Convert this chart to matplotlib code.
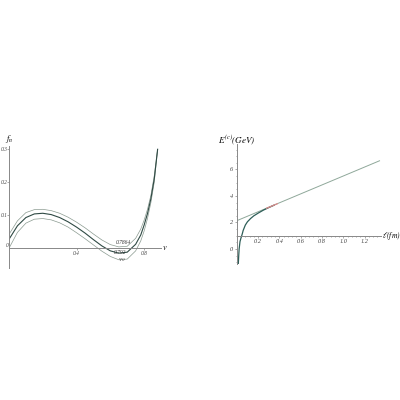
import numpy as np
import matplotlib
matplotlib.use("Agg")
import matplotlib.pyplot as plt
from matplotlib.ticker import MultipleLocator

plt.rcParams['font.family'] = ['Liberation Serif', 'DejaVu Serif']
plt.rcParams['font.style'] = 'italic'
plt.rcParams['mathtext.fontset'] = 'stix'

## left panel : f_n(v) for three values ##
v = [0, 0.05, 0.1, 0.15, 0.2, 0.25, 0.3, 0.35, 0.4, 0.45, 0.5, 0.55, 0.6,
     0.65, 0.7, 0.75, 0.78, 0.8, 0.82, 0.84, 0.86, 0.88]
f_up = [0.042, 0.083, 0.108, 0.117, 0.118, 0.114, 0.106, 0.094, 0.079, 0.062,
        0.043, 0.025, 0.011, 0.004, 0.006, 0.03, 0.058, 0.085, 0.118, 0.16,
        0.22, 0.30]
f_mid = [0.027, 0.068, 0.093, 0.104, 0.106, 0.102, 0.093, 0.080, 0.064, 0.046,
         0.026, 0.007, -0.008, -0.015, -0.012, 0.012, 0.04, 0.07, 0.105, 0.15,
         0.21, 0.30]
f_low = [0.0, 0.048, 0.076, 0.088, 0.090, 0.086, 0.077, 0.064, 0.047, 0.029,
         0.010, -0.009, -0.025, -0.035, -0.033, -0.008, 0.022, 0.052, 0.09,
         0.138, 0.20, 0.30]
curve_labels = ["0.7864", "0.792", "$v_0$"]

## right panel : E(l) ##
l_curve = [0.014, 0.018, 0.022, 0.03, 0.04, 0.05, 0.06, 0.08, 0.1, 0.13, 0.16,
           0.2, 0.25, 0.3, 0.35]
E_curve = [-1.15, -0.5, 0.0, 0.55, 0.85, 1.1, 1.4, 1.8, 2.05, 2.3, 2.5, 2.7,
           2.93, 3.12, 3.3]
l_line = [0, 1.34]
E_line = [2.13, 6.65]
l_red = [0.28, 0.38]
E_red = [3.07, 3.41]

fig = plt.figure(figsize=(4, 4), dpi=100)

ax1 = fig.add_axes([0.0225, 0.33, 0.38, 0.305])
ax1.plot(v, f_up, color='#8a9a90', lw=0.5)
ax1.plot(v, f_low, color='#8a9a90', lw=0.5)
ax1.plot(v, f_mid, color='#2f4a44', lw=0.8)
ax1.set_xlim(0, 0.9)
ax1.set_ylim(-0.06, 0.31)
for s in ['top', 'right']:
    ax1.spines[s].set_visible(False)
ax1.spines['left'].set_position(('data', 0))
ax1.spines['bottom'].set_position(('data', 0))
for s in ['left', 'bottom']:
    ax1.spines[s].set_color('#888888')
    ax1.spines[s].set_linewidth(0.7)
ax1.set_xticks([0.4, 0.8])
ax1.set_xticklabels(["0.4", "0.8"])
ax1.set_yticks([0.1, 0.2, 0.3])
ax1.set_yticklabels(["0.1", "0.2", "0.3"])
ax1.tick_params(labelsize=4, length=1.2, width=0.5, pad=0.5, colors='#888888',
                labelcolor='#444444')
ax1.tick_params(axis='y', pad=0)
ax1.text(-0.005, 0.0, "0", fontsize=4, ha='right', va='bottom', color='#444444')
ax1.text(0.003, 0.312, "$f_n$", fontsize=6, ha='center', va='bottom')
ax1.text(0.905, 0.0, "$v$", fontsize=6, ha='left', va='center')
ax1.text(0.63, 0.018, curve_labels[0], fontsize=4, ha='left', va='center', color='#333333')
ax1.text(0.62, -0.012, curve_labels[1], fontsize=4, ha='left', va='center', color='#333333')
ax1.text(0.645, -0.036, curve_labels[2], fontsize=5, ha='left', va='center', color='#333333')

ax2 = fig.add_axes([0.592, 0.3395, 0.3595, 0.30])
ax2.plot(l_line, E_line, color='#8fa89a', lw=0.7)
ax2.plot(l_curve, E_curve, color='#2e5e58', lw=0.9)
ax2.plot(l_red, E_red, color='#d98a8a', lw=0.9)
ax2.set_xlim(0, 1.35)
ax2.set_ylim(-1.15, 7.9)
for s in ['top', 'right']:
    ax2.spines[s].set_visible(False)
ax2.spines['left'].set_position(('data', 0))
ax2.spines['bottom'].set_position(('data', 1))
for s in ['left', 'bottom']:
    ax2.spines[s].set_color('#888888')
    ax2.spines[s].set_linewidth(0.7)
ax2.set_xticks([0.2, 0.4, 0.6, 0.8, 1.0, 1.2])
ax2.set_xticklabels(["0.2", "0.4", "0.6", "0.8", "1.0", "1.2"])
ax2.xaxis.set_minor_locator(MultipleLocator(0.04))
ax2.set_yticks([0, 2, 4, 6])
ax2.set_yticklabels(["0", "2", "4", "6"])
ax2.yaxis.set_minor_locator(MultipleLocator(0.5))
ax2.tick_params(which='both', labelsize=4.5, length=1.5, width=0.5, pad=1,
                colors='#888888', labelcolor='#444444')
ax2.tick_params(which='minor', length=1)
ax2.text(0.0, 7.7, "$E^{(c)}(GeV)$", fontsize=6.5, ha='center', va='bottom')
ax2.text(1.36, 1.0, r"$\ell(fm)$", fontsize=5.5, ha='left', va='center')

fig.savefig("out.png", dpi=100)
